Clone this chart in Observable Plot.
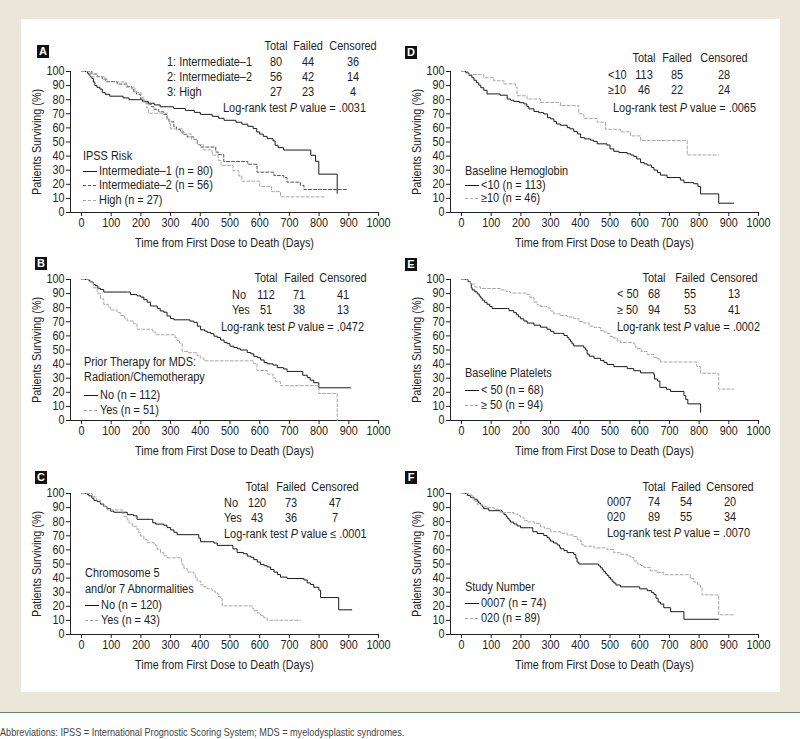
<!DOCTYPE html>
<html><head><meta charset="utf-8">
<script src="https://cdn.jsdelivr.net/npm/d3@7"></script>
<script src="https://cdn.jsdelivr.net/npm/@observablehq/plot@0.6"></script>
<style>
body{margin:0;background:#fff;}
#wrap{position:relative;width:800px;height:739px;overflow:hidden;font-family:"Liberation Sans",Arial,sans-serif;color:#1e1e1e;}
.bg{position:absolute;left:0;top:0;width:800px;height:712px;background:#ebe6da;}
.panel{position:absolute;left:21px;top:19px;width:759px;height:673px;background:#fff;}
.rule{position:absolute;left:0;top:712px;width:800px;height:1px;background:#5e8a66;}
.t{position:absolute;font-size:12px;line-height:14px;white-space:nowrap;transform:scaleX(0.91);transform-origin:0 50%;}
.t.mid{transform:translateX(-50%) scaleX(0.91);transform-origin:50% 50%;}
.box{position:absolute;width:12px;height:13px;background:#111;color:#fff;font:bold 11px/13px "Liberation Sans",Arial,sans-serif;text-align:center;}
.cap{position:absolute;left:0;top:726px;font-size:10.7px;line-height:13px;color:#444;white-space:nowrap;transform:scaleX(0.855);transform-origin:0 50%;}
</style></head><body><div id="wrap"><div class="bg"></div><div class="panel"></div><div class="rule"></div></div>
<script>
// ---------- shared labels / ticks ----------
const X_TICKS = [0,100,200,300,400,500,600,700,800,900,1000];
const Y_TICKS = [0,10,20,30,40,50,60,70,80,90,100];
const X_LABEL = "Time from First Dose to Death (Days)";
const Y_LABEL = "Patients Surviving (%)";
const TABLE_HEADER = ["Total","Failed","Censored"];
const CAPTION = "Abbreviations: IPSS = International Prognostic Scoring System; MDS = myelodysplastic syndromes.";

// ---------- Panel A: IPSS Risk ----------
const A_rows = ["1: Intermediate\u20131","2: Intermediate\u20132","3: High"];
const A_total = [80,56,27], A_failed = [44,42,23], A_cens = [36,14,4];
const A_test = "= .0031";
const A_title = ["IPSS Risk"];
const A_keys = ["Intermediate\u20131 (n = 80)","Intermediate\u20132 (n = 56)","High (n = 27)"];
const A_int1 = [[0,100],[15,100],[20,98.8],[25,97.5],[30,96.3],[35,95],[40,92.5],[45,90],[52,88.8],[62,87.5],[70,85],[80,83.8],[95,82.5],[140,81.3],[160,80],[195,80],[205,78.8],[225,77.5],[245,76.3],[265,75],[310,73.8],[350,72.4],[380,71],[400,69.6],[440,68.2],[462,66.8],[480,65.4],[520,64],[540,62.6],[560,61.1],[578,59.6],[590,57.1],[600,55.6],[612,54],[625,52.4],[645,50.8],[652,47.6],[662,46],[680,44.3],[765,44.3],[772,40.6],[788,36.3],[799,27.2],[861,27.2],[861,13.6]];
const A_int2 = [[0,100],[30,100],[35,98.2],[53,96.4],[70,94.6],[86,92.9],[120,91.1],[154,89.3],[170,87.5],[176,85.7],[185,83.9],[199,80.4],[210,78.6],[221,76.8],[235,75],[244,73.2],[260,71.4],[277,69.6],[288,66.1],[295,64.3],[311,60.7],[320,58.9],[333,57.1],[345,55.3],[356,53.6],[378,51.8],[390,48.2],[400,46.4],[446,46.4],[452,42.9],[460,41.1],[479,36.2],[535,36.2],[560,34.2],[591,28.6],[648,26.2],[681,24.8],[692,21.5],[737,19.2],[749,16.3],[895,16.3]];
const A_high = [[0,100],[20,100],[30,96.3],[80,92.6],[150,88.9],[180,85.2],[200,81.5],[210,77.8],[220,74.1],[225,70.4],[280,70.4],[290,66.7],[295,63],[300,59.3],[340,55.6],[370,51.9],[390,48.1],[410,44.4],[440,40.7],[460,37],[470,33.3],[510,29.6],[530,25.9],[540,22.2],[590,22.2],[600,18.5],[640,14.8],[670,11.1],[822,11.1]];

// ---------- Panel B: Prior therapy ----------
const B_rows = ["No","Yes"];
const B_total = [112,51], B_failed = [71,38], B_cens = [41,13];
const B_test = "= .0472";
const B_title = ["Prior Therapy for MDS:","Radiation/Chemotherapy"];
const B_keys = ["No (n = 112)","Yes (n = 51)"];
const B_no = [[0,100],[19,100],[25,99.1],[30,98.2],[40,96.4],[47,95.5],[55,93.8],[64,92.9],[75,91.1],[154,91.1],[165,89.3],[187,88.4],[200,87.5],[210,85.7],[221,83.9],[232,81.2],[255,79.5],[265,77.7],[277,76.8],[288,74.1],[300,72.3],[311,71.4],[356,71.4],[365,70.5],[378,69.6],[390,66.9],[401,64.3],[415,63.4],[423,62.5],[435,61.6],[446,59.8],[457,58.9],[468,57.1],[480,55.4],[490,54.5],[500,52.7],[513,51.8],[525,50.9],[535,50],[558,48.2],[570,47.3],[580,45.5],[592,44.6],[603,42.9],[615,41.1],[625,40.2],[645,39.3],[659,37.5],[680,36.6],[692,34.8],[737,34.8],[745,32.1],[760,30.4],[770,28.6],[782,26.8],[799,23.2],[906,23.2]];
const B_yes = [[0,100],[19,100],[30,98],[40,94.1],[53,90.2],[64,86.3],[75,82.4],[90,80.4],[98,78.4],[120,76.5],[131,74.5],[145,72.5],[154,70.6],[176,68.6],[187,64.7],[232,64.7],[240,62.7],[250,60.8],[300,60.8],[315,58.8],[322,56.9],[330,54.9],[339,49],[360,48.1],[389,46.2],[400,44.2],[412,42.3],[570,42.3],[580,40.4],[591,35.5],[615,35.5],[625,32.9],[645,30.2],[653,27.5],[670,24.7],[799,24.7],[799,19.2],[861,19.2],[861,0]];

// ---------- Panel C: Chromosome 5/7 ----------
const C_rows = ["No","Yes"];
const C_total = [120,43], C_failed = [73,36], C_cens = [47,7];
const C_test = "\u2264 .0001";
const C_title = ["Chromosome 5","and/or 7 Abnormalities"];
const C_keys = ["No (n = 120)","Yes (n = 43)"];
const C_no = [[0,100],[13,100],[20,99.2],[25,98.3],[35,96.7],[42,95],[53,94.2],[64,92.5],[75,90.8],[86,89.2],[98,87.5],[109,86.7],[143,86.7],[154,85],[175,84.2],[187,81.7],[232,81.7],[240,79.2],[250,78.3],[277,77.5],[288,75.8],[300,74.2],[311,72.5],[322,70.8],[389,70.8],[395,68.3],[401,65.8],[446,64.9],[457,63.2],[502,63.2],[510,60.7],[524,58.2],[545,57.3],[558,55.6],[570,54.8],[580,53.1],[592,51.4],[603,49.6],[615,48.8],[625,47.9],[637,46.1],[648,44.3],[660,42.5],[670,40.7],[692,39.7],[749,38.7],[760,36.6],[771,35.5],[782,33.5],[799,31.4],[805,26.2],[866,26.2],[866,17.5],[911,17.5]];
const C_yes = [[0,100],[25,100],[36,97.7],[50,95.3],[64,93],[75,90.7],[86,88.4],[131,88.4],[137,86],[143,83.7],[154,81.4],[160,79.1],[171,76.7],[187,74.4],[193,72.1],[199,69.8],[210,67.4],[221,65.1],[244,64.1],[250,62.8],[255,60.5],[266,58.1],[277,55.8],[288,54.4],[333,54.4],[336,51.9],[339,49.5],[345,46.9],[356,44.3],[378,43.1],[383,40.5],[389,37.9],[401,35.2],[412,33.8],[423,32.4],[440,30.9],[450,29.4],[460,26.9],[468,25.4],[474,20.3],[569,20.3],[575,18.6],[580,16.9],[592,15.2],[603,13.5],[614,11.8],[625,10.1],[737,10.1]];

// ---------- Panel D: Hemoglobin ----------
const D_rows = ["<10","\u226510"];
const D_total = [113,46], D_failed = [85,22], D_cens = [28,24];
const D_test = "= .0065";
const D_title = ["Baseline Hemoglobin"];
const D_keys = ["<10 (n = 113)","\u226510 (n = 46)"];
const D_lt10 = [[0,100],[8,100],[15,99.1],[25,97.3],[35,95.6],[42,93.8],[50,92],[58,90.3],[65,88.5],[75,86.7],[86,84.1],[120,84.1],[130,83.2],[154,80.5],[165,79.6],[176,78.8],[195,77.9],[210,77],[220,75.2],[227,73.5],[244,71.7],[260,70.8],[277,69.9],[290,67.3],[300,66.4],[311,64.6],[320,62.8],[333,61.9],[356,60.2],[365,59.3],[378,57.5],[390,55.7],[401,53.1],[415,52.2],[434,51.3],[445,50.4],[457,48.7],[490,47.8],[500,45.1],[513,43.4],[530,42.5],[558,41.6],[570,40.7],[580,39.8],[590,38],[603,35.4],[615,34.5],[625,33.6],[640,31.9],[648,30.1],[660,28.3],[670,26.5],[692,24.8],[737,23],[749,21.2],[782,20.4],[796,18.5],[805,13.2],[866,13.2],[866,6.6],[917,6.6]];
const D_ge10 = [[0,100],[19,100],[22,97.8],[75,95.6],[109,93.4],[143,91.2],[182,89],[187,82.8],[221,80.5],[266,78.1],[333,75.8],[384,75.8],[395,70],[412,66.7],[457,64],[485,59],[535,57.2],[569,54.3],[603,51],[760,51],[760,40.8],[866,40.8]];

// ---------- Panel E: Platelets ----------
const E_rows = ["< 50","\u2265 50"];
const E_total = [68,94], E_failed = [55,53], E_cens = [13,41];
const E_test = "= .0002";
const E_title = ["Baseline Platelets"];
const E_keys = ["< 50 (n = 68)","\u2265 50 (n = 94)"];
const E_lt50 = [[0,100],[13,100],[22,98.5],[30,97.1],[33,94.1],[36,92.6],[45,91.2],[53,89.7],[60,88.2],[65,86.8],[70,85.3],[78,83.8],[86,82.4],[95,80.9],[103,79.4],[154,79.4],[160,77.9],[176,76.5],[185,75],[192,73.5],[199,72.1],[210,70.6],[221,69.1],[244,67.6],[266,66.2],[288,64.7],[300,63.2],[311,61.8],[333,61.8],[345,60.3],[356,58.8],[362,57.4],[367,55.9],[372,54.4],[378,52.9],[412,51.5],[418,50],[423,47.1],[430,45.6],[446,44.1],[468,42.6],[480,41.2],[490,39.7],[513,38.2],[558,36.8],[580,35.3],[603,33.8],[648,32.4],[650,29.4],[660,28],[668,23.5],[690,22.1],[704,20.6],[749,17.6],[755,15],[762,11.8],[805,11.8],[805,5.9]];
const E_ge50 = [[0,100],[8,100],[20,98.9],[30,96.8],[45,94.7],[64,93.6],[131,92.6],[150,91.5],[165,90.4],[221,89.4],[230,87.2],[244,84],[255,82],[266,80.9],[288,79.8],[300,77.7],[311,75.6],[333,74.5],[356,73.4],[378,72.3],[395,70.2],[412,69.1],[430,67],[446,66],[468,63.8],[480,62.8],[490,61.7],[500,59.6],[513,58.5],[524,56.4],[535,55.3],[580,54.3],[585,52.1],[592,51],[605,48.9],[625,46.8],[648,44.7],[660,43.6],[670,41.5],[782,41.5],[792,38.3],[805,33.5],[866,33.5],[866,22.3],[917,22.3]];

// ---------- Panel F: Study number ----------
const F_rows = ["0007","020"];
const F_total = [74,89], F_failed = [54,55], F_cens = [20,34];
const F_test = "= .0070";
const F_title = ["Study Number"];
const F_keys = ["0007 (n = 74)","020 (n = 89)"];
const F_0007 = [[0,100],[8,100],[20,98.6],[30,97.3],[42,95.9],[53,94.6],[58,93.2],[64,91.9],[70,90.5],[75,89.2],[92,87.8],[131,87.8],[137,86.5],[143,85.1],[150,83.8],[154,82.4],[160,81.1],[165,79.7],[176,78.4],[187,77],[199,75.7],[232,75.7],[240,72.9],[255,71.6],[277,70.2],[288,68.9],[295,67.6],[300,66.2],[310,64.9],[322,63.5],[330,62.2],[333,60.8],[345,59.5],[356,58.1],[378,56.8],[385,54.1],[389,51.4],[395,50],[457,50],[462,48.6],[468,47.3],[474,45.9],[479,44.6],[485,43.2],[490,41.9],[496,40.5],[502,39.2],[507,37.8],[513,36.5],[520,35.1],[535,33.8],[592,33.8],[600,32.4],[625,31.1],[640,29.7],[648,28.4],[655,25.7],[662,23],[670,21.6],[681,19],[704,16.2],[749,10.8],[866,10.8]];
const F_020 = [[0,100],[19,100],[25,98.9],[36,96.6],[45,94.4],[53,92.1],[70,91],[86,89.9],[110,88.8],[131,86.5],[176,85.4],[190,84.3],[199,83.1],[210,80.9],[221,79.8],[245,78.7],[266,76.4],[280,75.3],[300,72.9],[333,71.8],[356,70.6],[378,69.5],[390,67.2],[401,66],[405,63.7],[412,62.6],[446,61.4],[490,60.3],[513,58],[535,56.9],[558,55.7],[570,54.5],[580,52.1],[592,50],[603,48.9],[614,47.6],[636,45.2],[660,44],[681,42.4],[760,42.4],[770,39.6],[782,37.2],[795,35.1],[805,33.5],[810,28.1],[866,28.1],[866,14],[917,14]];

// ---------- styles & layout (not data) ----------
const X_DOMAIN = [-37, 1000];
const STY = {
  solid: {stroke:"#1a1a1a", dash:null},
  dark:  {stroke:"#555555", dash:"3,2"},
  light: {stroke:"#a6a6a6", dash:"3,2"}
};
const panels = [
  {letter:"A", rows:A_rows, total:A_total, failed:A_failed, cens:A_cens, test:A_test, title:A_title, keys:A_keys,
   series:[A_int1,A_int2,A_high], styles:["solid","dark","light"],
   L:{left:0, top:71, box:[37,45], headY:46, cols:[276,308,353], rowX:167, rowYs:[62,77,92], lr:[223,108], legX:83, titleYs:[156], keyYs:[171,185,200]}},
  {letter:"B", rows:B_rows, total:B_total, failed:B_failed, cens:B_cens, test:B_test, title:B_title, keys:B_keys,
   series:[B_no,B_yes], styles:["solid","light"],
   L:{left:0, top:279, box:[35,257], headY:278, cols:[266,299,343], rowX:232, rowYs:[295,310], lr:[221,327], legX:84, titleYs:[362,377], keyYs:[395,410]}},
  {letter:"C", rows:C_rows, total:C_total, failed:C_failed, cens:C_cens, test:C_test, title:C_title, keys:C_keys,
   series:[C_no,C_yes], styles:["solid","light"],
   L:{left:0, top:493, box:[35,471], headY:487, cols:[257,291,335], rowX:224, rowYs:[503,518], lr:[224,534], legX:85, titleYs:[573,589], keyYs:[605,620]}},
  {letter:"D", rows:D_rows, total:D_total, failed:D_failed, cens:D_cens, test:D_test, title:D_title, keys:D_keys,
   series:[D_lt10,D_ge10], styles:["solid","light"],
   L:{left:380, top:71, box:[405,46], headY:58, cols:[644,677,724], rowX:608, rowYs:[75,90], lr:[613,108], legX:465, titleYs:[171], keyYs:[185,198]}},
  {letter:"E", rows:E_rows, total:E_total, failed:E_failed, cens:E_cens, test:E_test, title:E_title, keys:E_keys,
   series:[E_lt50,E_ge50], styles:["solid","light"],
   L:{left:380, top:279, box:[405,258], headY:278, cols:[654,690,734], rowX:617, rowYs:[294,310], lr:[617,327], legX:465, titleYs:[373], keyYs:[390,405]}},
  {letter:"F", rows:F_rows, total:F_total, failed:F_failed, cens:F_cens, test:F_test, title:F_title, keys:F_keys,
   series:[F_0007,F_020], styles:["solid","light"],
   L:{left:380, top:493, box:[405,471], headY:487, cols:[654,686,730], rowX:607, rowYs:[502,517], lr:[607,533], legX:465, titleYs:[587], keyYs:[603,618]}}
];

const wrap = document.getElementById("wrap");
function txt(x, y, s, mid, html) {
  const d = document.createElement("div");
  d.className = "t" + (mid ? " mid" : "");
  d.style.left = x + "px"; d.style.top = (y - 7) + "px";
  if (html) d.innerHTML = s; else d.textContent = s;
  wrap.appendChild(d);
  return d;
}
// horizontally condense SVG texts about their own anchor (keeps x/y attributes intact)
function condense(svg, k) {
  svg.querySelectorAll("text").forEach(t => {
    const tr = t.getAttribute("transform") || "";
    t.setAttribute("transform", (tr + ` scale(${k},1)`).trim());
  });
}
const MT = 10, PH = 141, MB = 45;

for (const p of panels) {
  const L = p.L;
  const marks = [
    Plot.ruleY([0], {stroke:"#222"}),
    Plot.ruleX([X_DOMAIN[0]], {stroke:"#222"}),
    Plot.axisX(X_TICKS, {tickSize:4, tickPadding:2, tickFormat:"d", label:X_LABEL, labelAnchor:"center", labelArrow:"none", labelOffset:34}),
    Plot.axisY(Y_TICKS, {tickSize:4, tickPadding:2, tickFormat:"d", label:Y_LABEL, labelAnchor:"center", labelArrow:"none", labelOffset:38})
  ];
  p.series.forEach((s, i) => {
    const st = STY[p.styles[i]];
    marks.push(Plot.line(s, {x: d => d[0], y: d => d[1], curve:"step-after", stroke: st.stroke, strokeWidth: 1, strokeDasharray: st.dash || undefined}));
  });
  const svg = Plot.plot({
    width: 380, height: MT + PH + MB,
    marginLeft: 70, marginRight: 2, marginTop: MT, marginBottom: MB,
    x: {domain: X_DOMAIN}, y: {domain: [0, 100]},
    style: {fontFamily: '"Liberation Sans",Arial,sans-serif', fontSize: "12px", background: "transparent", overflow: "visible", color:"#1e1e1e"},
    marks
  });
  condense(svg, 0.9);
  svg.style.position = "absolute";
  svg.style.left = L.left + "px";
  svg.style.top = (L.top - MT) + "px";
  wrap.appendChild(svg);

  const b = document.createElement("div");
  b.className = "box"; b.textContent = p.letter;
  b.style.left = L.box[0] + "px"; b.style.top = L.box[1] + "px";
  wrap.appendChild(b);

  TABLE_HEADER.forEach((h, j) => txt(L.cols[j], L.headY, h, true));
  p.rows.forEach((r, i) => {
    txt(L.rowX, L.rowYs[i], r);
    txt(L.cols[0], L.rowYs[i], String(p.total[i]), true);
    txt(L.cols[1], L.rowYs[i], String(p.failed[i]), true);
    txt(L.cols[2], L.rowYs[i], String(p.cens[i]), true);
  });
  txt(L.lr[0], L.lr[1], "Log-rank test <i>P</i> value " + p.test, false, true);

  p.title.forEach((t, i) => txt(L.legX, L.titleYs[i], t));
  p.keys.forEach((k, i) => {
    const st = STY[p.styles[i]];
    const y = L.keyYs[i];
    const sv = document.createElementNS("http://www.w3.org/2000/svg", "svg");
    sv.setAttribute("width", 15); sv.setAttribute("height", 3);
    sv.style.position = "absolute"; sv.style.left = L.legX + "px"; sv.style.top = (y - 1) + "px";
    const ln = document.createElementNS("http://www.w3.org/2000/svg", "line");
    ln.setAttribute("x1", 0); ln.setAttribute("x2", 14); ln.setAttribute("y1", 1.5); ln.setAttribute("y2", 1.5);
    ln.setAttribute("stroke", st.stroke);
    if (st.dash) ln.setAttribute("stroke-dasharray", st.dash);
    sv.appendChild(ln);
    wrap.appendChild(sv);
    txt(L.legX + 16, y, k);
  });
}
const cap = document.createElement("div");
cap.className = "cap"; cap.textContent = CAPTION;
wrap.appendChild(cap);
</script></body></html>
